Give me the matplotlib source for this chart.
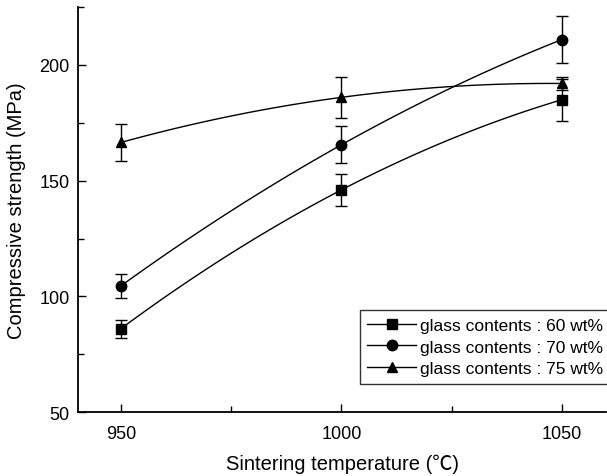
import numpy as np
import matplotlib
matplotlib.use("Agg")
import matplotlib.pyplot as plt
from matplotlib.ticker import MultipleLocator

plt.rcParams["font.family"] = ["Liberation Sans", "DejaVu Sans"]

# sintering temperature (C)
temps = [950, 1000, 1050]

# compressive strength (MPa) and error bars
glass_60 = [86, 146, 185]
err_60 = [4, 7, 9]
glass_70 = [104.5, 165.5, 211]
err_70 = [5, 8, 10]
glass_75 = [166.5, 186, 192]
err_75 = [8, 9, 3]

labels = ["glass contents : 60 wt%", "glass contents : 70 wt%", "glass contents : 75 wt%"]
markers = ["s", "o", "^"]

fig = plt.figure(figsize=(6.07, 4.77), dpi=100)
ax = fig.add_axes([0.1285, 0.134, 0.87, 0.849])

xs = np.linspace(temps[0], temps[-1], 100)
for vals, errs, mk, lab in zip([glass_60, glass_70, glass_75],
                               [err_60, err_70, err_75], markers, labels):
    # smooth curve through the three points
    coef = np.polyfit(temps, vals, 2)
    ax.plot(xs, np.polyval(coef, xs), color="k", lw=1.0)
    ax.errorbar(temps, vals, yerr=errs, fmt=mk, color="k", ms=7.5,
                capsize=4, elinewidth=1.0, capthick=1.0)
    ax.plot([], [], color="k", lw=1.0, marker=mk, ms=7.5, label=lab)

ax.set_xlim(940.3, 1060)
ax.set_ylim(50, 225)
ax.xaxis.set_major_locator(MultipleLocator(50))
ax.xaxis.set_minor_locator(MultipleLocator(25))
ax.yaxis.set_major_locator(MultipleLocator(50))
ax.yaxis.set_minor_locator(MultipleLocator(25))
ax.tick_params(which="both", direction="in", labelsize=13, width=1.0)
ax.tick_params(which="major", length=6)
ax.tick_params(which="minor", length=4)
ax.tick_params(axis="x", pad=9)
ax.tick_params(axis="y", pad=6)
ax.spines["top"].set_visible(False)
ax.spines["right"].set_visible(False)
ax.spines["left"].set_linewidth(1.3)
ax.spines["bottom"].set_linewidth(1.3)

ax.set_xlabel("Sintering temperature (\u2103)", fontsize=14.5, labelpad=9,
              family=["Liberation Sans", "Noto Sans CJK JP"])
ax.set_ylabel("Compressive strength (MPa)", fontsize=14.5, labelpad=10)

leg = ax.legend(loc="lower right", bbox_to_anchor=(1.01, 0.069), fontsize=12.5,
                frameon=True, fancybox=False, edgecolor="k", borderaxespad=0,
                handlelength=2.8, handletextpad=0.25, borderpad=0.45,
                labelspacing=0.38)
leg.get_frame().set_linewidth(1.0)

fig.savefig("out.png", dpi=100)
